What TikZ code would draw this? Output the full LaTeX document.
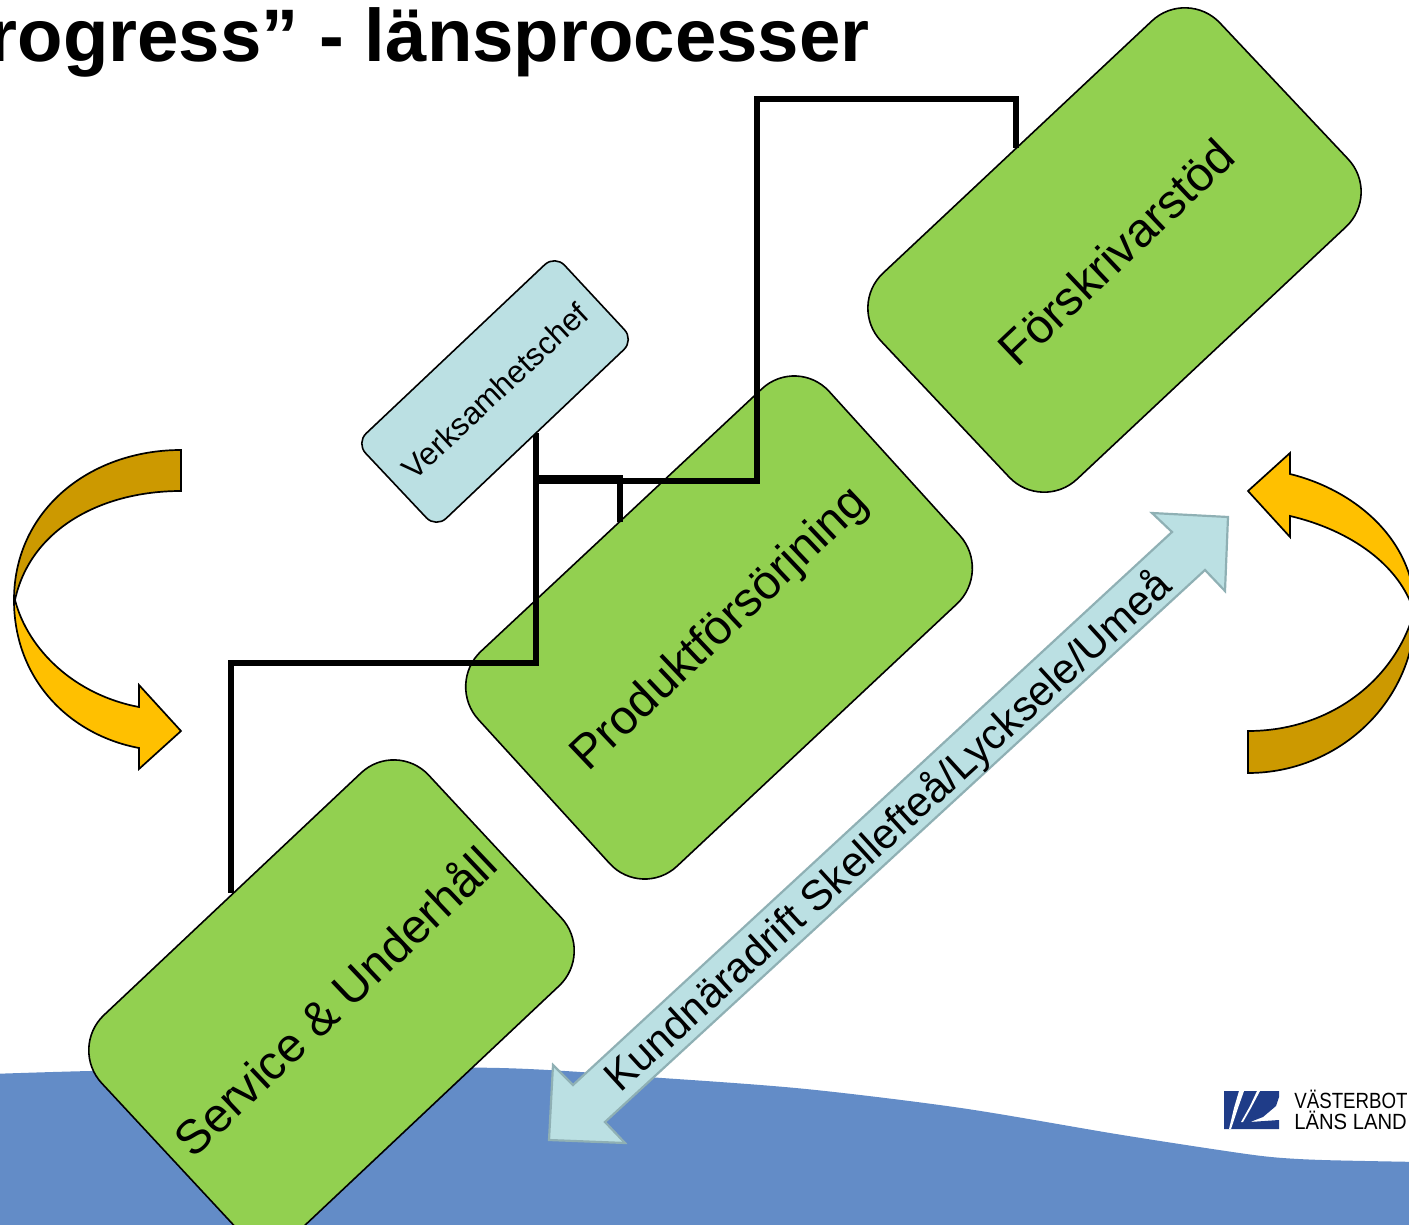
\documentclass[tikz,border=0pt]{standalone}
\usepackage{fontspec}
\setmainfont{Liberation Sans}
\definecolor{boxgreen}{HTML}{92D050}
\definecolor{boxblue}{HTML}{BBE0E3}
\definecolor{arrowline}{HTML}{8FB0B4}
\definecolor{water}{HTML}{638CC7}
\definecolor{amber}{HTML}{FFC000}
\definecolor{amberdark}{HTML}{CC9900}
\definecolor{logoblue}{HTML}{1F3C88}
\tikzset{
  greenbox/.style={draw=black,line width=.8pt,fill=boxgreen,rounded corners=24pt},
  chiefbox/.style={draw=black,line width=.8pt,fill=boxblue,rounded corners=7pt},
  link/.style={draw=black,line width=2.7pt,miter limit=10},
  bendlight/.style={draw=black,line width=.85pt,fill=amber,line join=miter},
  benddark/.style={draw=black,line width=.85pt,fill=amberdark,line join=miter},
  boxlabel/.style={inner sep=0pt,font=\fontsize{23.9pt}{28pt}\selectfont},
  logotext/.style={anchor=base west,inner sep=0pt,font=\fontsize{11pt}{12pt}\selectfont},
}
\begin{document}
\begin{tikzpicture}[x=.5pt,y=-.5pt]
\useasboundingbox (0,0) rectangle (1409,1225);
\clip (0,0) rectangle (1409,1225);
% water
\fill[water] plot[smooth,tension=.5] coordinates {(-10,1074) (90,1071) (250,1068) (500,1068) (662,1078) (806,1089) (961,1108) (1116,1134) (1219,1150) (1271,1157) (1322,1160) (1420,1162)} -- (1420,1235) -- (-10,1235) -- cycle;
% boxes
\draw[greenbox] (797,356) -- (992,571) -- (642,899) -- (446,684) -- cycle;
\draw[greenbox] (1187,-12) -- (1381,194) -- (1042,512) -- (848,306) -- cycle;
\draw[greenbox] (396,740) -- (594,953) -- (267,1261) -- (69,1048) -- cycle;
% connector ends
\coordinate (chiefOut) at (536,433);
\coordinate (joinA) at (536,478);
\coordinate (joinB) at (536,481);
\coordinate (prodIn) at (620,522);
\coordinate (serviceIn) at (231,893);
\coordinate (stodIn) at (1016,148);
% connectors
\draw[link] (chiefOut) -- (536,663) -- (231,663) -- (serviceIn);
\draw[link] (joinA) -- (620,478) -- (prodIn);
\draw[link] (joinB) -- (757,481) -- (757,99) -- (1016,99) -- (stodIn);
% chief box
\draw[chiefbox] (555,255) -- (634,340) -- (436,528) -- (356,443) -- cycle;
% labels
\node[boxlabel,rotate=43.5] (prod) at (721,630) {Produktförsörjning};
\node[boxlabel,rotate=43.5] (stod) at (1116,252) {Förskrivarstöd};
\node[boxlabel,rotate=43.5] (service) at (334,1000) {Service \& Underhåll};
\node[inner sep=0pt,rotate=43,font=\fontsize{15.7pt}{20pt}\selectfont] (chief) at (495,391) {Verksamhetschef};
% double arrow
\draw[draw=arrowline,line width=1.1pt,fill=boxblue,line join=miter]
  (1228,517) -- (1225,591) -- (1205,570) -- (605,1122) -- (625,1143) -- (549,1140)
  -- (553,1065) -- (573,1085) -- (1172,532) -- (1152,513) -- cycle;
\node[inner sep=0pt,rotate=42.4,font=\fontsize{21.1pt}{26pt}\selectfont] (kund) at (889,832) {Kundnäradrift Skellefteå/Lycksele/Umeå};
% left bend arrow
\draw[benddark] (181,450) .. controls (90,450) and (14,510) .. (14,600)
  -- (15,600) .. controls (30,530) and (100,491) .. (181,491) -- cycle;
\draw[bendlight] (14,600) .. controls (14,680) and (70,735) .. (139,748)
  -- (139,769) -- (181,731) -- (139,685) -- (139,707)
  .. controls (75,695) and (28,650) .. (15,600) -- cycle;
% right bend arrow
\draw[bendlight] (1415,612) .. controls (1415,540) and (1355,490) .. (1290,474)
  -- (1290,453) -- (1248,491) -- (1290,537) -- (1290,516)
  .. controls (1350,530) and (1400,565) .. (1414,612) -- cycle;
\draw[benddark] (1415,612) .. controls (1415,700) and (1340,773) .. (1248,773)
  -- (1248,731) .. controls (1330,731) and (1395,680) .. (1414,612) -- cycle;
% title
\node[anchor=base east,inner sep=0pt,font=\fontsize{37.2pt}{42pt}\selectfont\bfseries] (title) at (870,62) {rogress” - länsprocesser};
% logo
\fill[logoblue] (1224,1091) -- (1279,1091) -- (1279,1097) -- (1276,1106) -- (1263,1117) -- (1250,1122) -- (1279,1120) -- (1279,1129) -- (1224,1129) -- cycle;
\fill[white] (1239,1091) -- (1244,1091) -- (1238,1108) -- (1231,1129) -- (1229,1129) -- (1234,1108) -- cycle;
\fill[white] (1257,1091) -- (1260,1091) -- (1251,1108) -- (1243,1122) -- (1241,1122) -- (1250,1106) -- cycle;
\node[logotext,xscale=.85] (logoA) at (1294,1108) {VÄSTERBOT};
\node[logotext,xscale=.92] (logoB) at (1294,1129) {LÄNS LAND};
\end{tikzpicture}
\end{document}
